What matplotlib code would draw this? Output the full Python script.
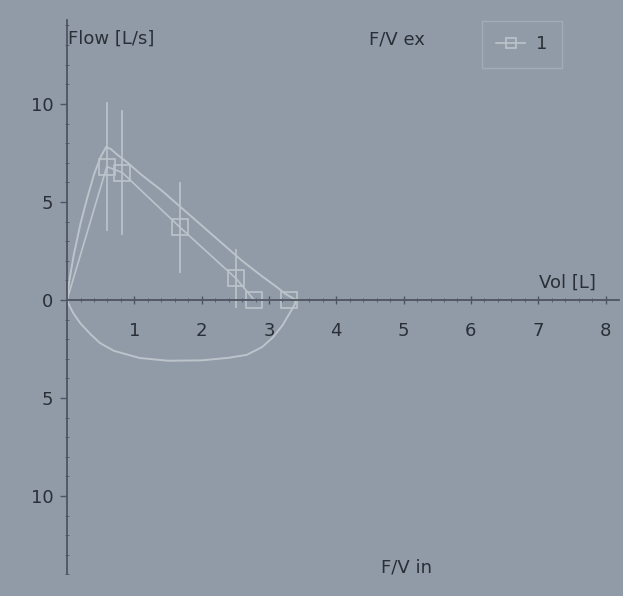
import matplotlib.pyplot as plt
import numpy as np
from matplotlib.ticker import FixedLocator, FixedFormatter

# expiratory flow-volume curve (measured)
exp_vol = [0, 0.03, 0.1, 0.2, 0.3, 0.4, 0.5, 0.58, 0.65, 0.75, 0.9, 1.1, 1.4,
           1.7, 2.0, 2.3, 2.6, 2.9, 3.1, 3.25, 3.35, 3.4]
exp_flow = [0, 0.9, 2.3, 3.9, 5.2, 6.4, 7.3, 7.8, 7.7, 7.4, 7.0, 6.4, 5.6,
            4.7, 3.8, 2.9, 2.0, 1.2, 0.7, 0.3, 0.1, 0]

# inspiratory curve
insp_vol = [0, 0.03, 0.09, 0.2, 0.35, 0.49, 0.7, 1.08, 1.5, 2.0, 2.4, 2.67,
            2.9, 3.06, 3.2, 3.31, 3.38, 3.4]
insp_flow = [0, -0.25, -0.66, -1.2, -1.75, -2.2, -2.6, -2.96, -3.1, -3.08,
             -2.95, -2.8, -2.4, -1.9, -1.3, -0.66, -0.25, 0]

# predicted series "1" with error bars
pred_vol = [0, 0.59, 0.82, 1.68, 2.51, 2.78, 3.3]
pred_flow = [0, 6.8, 6.5, 3.7, 1.1, 0, 0]
pred_err = [0, 3.3, 3.2, 2.3, 1.5, 0, 0]

y_ticks = [-10, -5, 0, 5, 10]
y_labels = ["10", "5", "0", "5", "10"]
x_ticks = [1, 2, 3, 4, 5, 6, 7, 8]

bg = "#909ba7"
line_c = "#bcc3cb"
txt_c = "#2a2f37"
axis_c = "#4e5560"

fig = plt.figure(figsize=(6.23, 5.96), dpi=100, facecolor=bg)
ax = fig.add_axes([0, 0, 1, 1], facecolor=bg)
ax.set_xlim(-0.996, 8.26)
ax.set_ylim(-15.1, 15.3)

ax.plot(exp_vol, exp_flow, color=line_c, lw=1.4)
ax.plot(insp_vol, insp_flow, color=line_c, lw=1.4)
ax.errorbar(pred_vol[1:], pred_flow[1:], yerr=pred_err[1:], fmt="none",
            ecolor=line_c, elinewidth=1.2, capsize=0)
ax.plot(pred_vol, pred_flow, color=line_c, lw=1.2, marker="s", ms=11,
        mfc="none", mec=line_c, mew=1.2, markevery=list(range(1, len(pred_vol))),
        label="1")

for side in ["top", "right"]:
    ax.spines[side].set_visible(False)
ax.spines["left"].set_position(("data", 0))
ax.spines["bottom"].set_position(("data", 0))
ax.spines["left"].set_bounds(-14.0, 14.3)
ax.spines["bottom"].set_bounds(0, 8.2)
for s in ["left", "bottom"]:
    ax.spines[s].set_color(axis_c)
    ax.spines[s].set_linewidth(1.3)

ax.yaxis.set_major_locator(FixedLocator(y_ticks))
ax.yaxis.set_major_formatter(FixedFormatter(y_labels))
ax.yaxis.set_minor_locator(FixedLocator(np.arange(-14, 15, 1)))
ax.xaxis.set_major_locator(FixedLocator(x_ticks))
ax.xaxis.set_minor_locator(FixedLocator(np.arange(0.2, 8.2, 0.2)))
ax.tick_params(axis="y", which="major", direction="out", length=5, width=1,
               color=axis_c, labelcolor=txt_c, labelsize=13, pad=5)
ax.tick_params(axis="y", which="minor", direction="inout", length=3, color=axis_c)
ax.tick_params(axis="x", which="major", direction="inout", length=6, width=1,
               color=axis_c, labelcolor=txt_c, labelsize=13, pad=13)
ax.tick_params(axis="x", which="minor", direction="inout", length=3, color=axis_c)

ax.text(0.02, 13.3, "Flow [L/s]", fontsize=13, color=txt_c, va="center")
ax.text(7.85, 0.9, "Vol [L]", fontsize=13, color=txt_c, ha="right", va="center")
ax.text(4.9, 13.3, "F/V ex", fontsize=13, color=txt_c, ha="center", va="center")
ax.text(5.05, -13.65, "F/V in", fontsize=13, color=txt_c, ha="center", va="center")

leg = ax.legend(loc="upper right", bbox_to_anchor=(0.902, 0.965), fontsize=13,
                frameon=True, fancybox=False, handlelength=1.6, markerscale=0.7,
                labelcolor=txt_c, borderpad=0.8, handletextpad=0.6,
                borderaxespad=0)
leg.get_frame().set_facecolor(bg)
leg.get_frame().set_edgecolor("#a9b1ba")

fig.savefig("out.png", dpi=100, facecolor=bg)
